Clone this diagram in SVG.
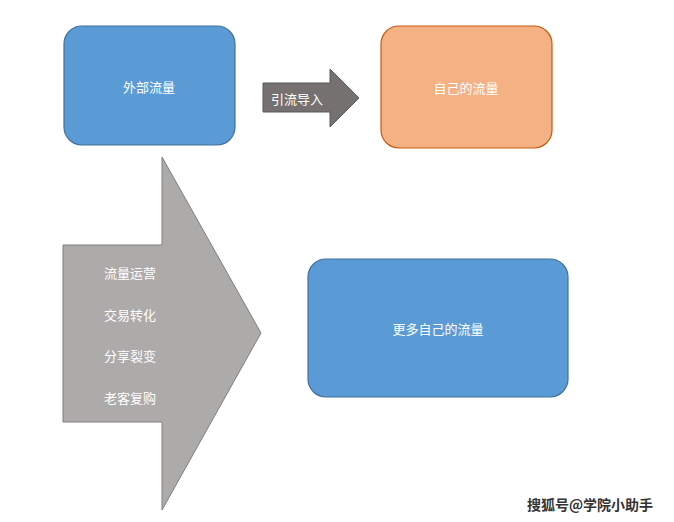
<svg xmlns="http://www.w3.org/2000/svg" width="674" height="522" viewBox="0 0 674 522">
<style>
text{font-family:"Noto Sans CJK SC",sans-serif;font-size:13px;fill:#fff;text-anchor:middle;dominant-baseline:central}
.blue{fill:#5B9BD5;stroke:#41719C;stroke-width:1.2}
.arr{fill:#ADAAAA;stroke:#7F7F7F;stroke-width:1}
</style>
<rect width="674" height="522" fill="#fff"/>
<g id="outer"><rect class="blue" x="64" y="26" width="171" height="119" rx="18"/><text x="149" y="86">外部流量</text></g>
<g id="own"><rect x="381" y="26" width="171" height="122" rx="18" fill="#F4B183" stroke="#C55A11" stroke-width="1.2"/><text x="466" y="87">自己的流量</text></g>
<g id="more"><rect class="blue" x="308" y="259" width="260" height="138" rx="18"/><text x="438" y="328">更多自己的流量</text></g>
<g id="connectors">
<g id="import"><polygon points="263,83 330,83 330,69 359,98 330,127 330,112 263,112" fill="#767171" stroke="#595959" stroke-width="1"/><text x="297" y="98">引流导入</text></g>
<g id="ops"><polygon class="arr" points="63,245 162,245 162,157 261,333 162,510 162,422 63,422"/>
<text x="130" y="272">流量运营</text><text x="130" y="314">交易转化</text><text x="130" y="355">分享裂变</text><text x="130" y="397">老客复购</text></g>
</g>
<text x="590" y="504" style="font-size:14px;font-weight:bold;fill:#333">搜狐号@学院小助手</text>
</svg>
